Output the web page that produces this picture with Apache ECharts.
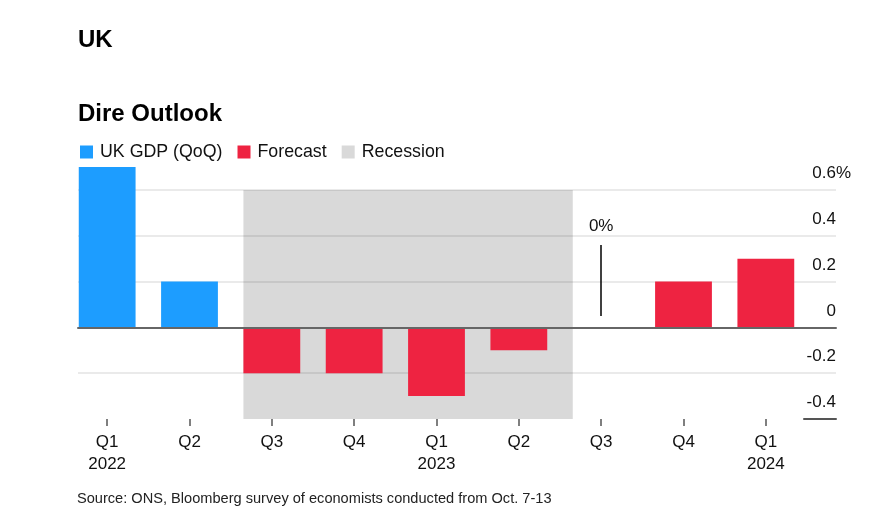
<!DOCTYPE html>
<html>
<head>
<meta charset="utf-8">
<script src="https://cdn.jsdelivr.net/npm/echarts@6/dist/echarts.min.js"></script>
<style>
html,body{margin:0;padding:0;background:#fff;}
#chart{width:872px;height:530px;}
</style>
</head>
<body>
<div id="chart"></div>
<script>
// ---- data ----
var categoryIds = ['2022Q1','2022Q2','2022Q3','2022Q4','2023Q1','2023Q2','2023Q3','2023Q4','2024Q1'];
var quarterLabels = ['Q1','Q2','Q3','Q4','Q1','Q2','Q3','Q4','Q1'];
var yearLabels = ['2022','','','','2023','','','','2024'];
var gdpActual = [0.7, 0.2, '-', '-', '-', '-', '-', '-', '-'];
var gdpForecast = ['-', '-', -0.2, -0.2, -0.3, -0.1, 0, 0.2, 0.3];
var recessionFrom = 2;   // index of 2022Q3
var recessionTo = 6;     // index of 2023Q3 (exclusive)
var annotationIndex = 6; // 2023Q3, 0%
var annotationText = '0%';
var yTicks = [-0.4, -0.2, 0, 0.2, 0.4, 0.6];
var sourceText = 'Source: ONS, Bloomberg survey of economists conducted from Oct. 7-13';

var FONT = "'Liberation Sans', Arial, Helvetica, sans-serif";
var BAR_FRAC = 0.69;
var barOffset = (1 - BAR_FRAC) / 2;
var yMin = yTicks[0], yMax = yTicks[yTicks.length - 1], yStep = 0.2;

var chart = echarts.init(document.getElementById('chart'));
chart.setOption({
  backgroundColor: '#fff',
  animation: false,
  textStyle: { fontFamily: FONT },
  title: [
    { text: 'UK', left: 78, top: 28, padding: 0,
      textStyle: { fontFamily: FONT, fontSize: 24, fontWeight: 'bold', color: '#000' } },
    { text: 'Dire Outlook', left: 78, top: 102, padding: 0,
      textStyle: { fontFamily: FONT, fontSize: 24, fontWeight: 'bold', color: '#000' } },
    { text: sourceText, left: 77, top: 491, padding: 0,
      textStyle: { fontFamily: FONT, fontSize: 14.6, fontWeight: 'normal', color: '#222' } }
  ],
  legend: {
    data: ['UK GDP (QoQ)', 'Forecast', 'Recession'],
    left: 80, top: 143, padding: 0,
    icon: 'rect', itemWidth: 13, itemHeight: 13, itemGap: 15,
    textStyle: { fontFamily: FONT, fontSize: 17.8, color: '#111', padding: [0, 0, 0, 2] }
  },
  grid: [
    { left: 78, right: 36, top: 190, bottom: 111 },   // gridlines / y labels
    { left: 66, right: 65, top: 190, bottom: 111 },   // bars
    { left: 804, right: 36, top: 190, bottom: 111 }   // short base line under labels
  ],
  xAxis: [
    { gridIndex: 0, type: 'value', min: 0, max: 1, z: 3,
      axisLine: { show: true, onZero: true, lineStyle: { color: '#666', width: 2 } },
      axisTick: { show: false }, axisLabel: { show: false }, splitLine: { show: false } },
    { gridIndex: 1, type: 'category', data: categoryIds, position: 'bottom',
      axisLine: { show: false, onZero: false },
      axisTick: { show: true, alignWithLabel: true, length: 7, lineStyle: { color: '#555', width: 1.5 } },
      axisLabel: { margin: 12, fontFamily: FONT, fontSize: 17, color: '#111', lineHeight: 22,
        interval: 0,
        formatter: function (v, i) { return quarterLabels[i] + (yearLabels[i] ? '\n' + yearLabels[i] : ''); } },
      splitLine: { show: false } },
    { gridIndex: 1, type: 'value', min: 0, max: categoryIds.length, show: false },
    { gridIndex: 2, type: 'value', min: 0, max: 1, position: 'bottom',
      axisLine: { show: true, onZero: false, lineStyle: { color: '#555', width: 2 } },
      axisTick: { show: false }, axisLabel: { show: false }, splitLine: { show: false } }
  ],
  yAxis: [
    { gridIndex: 0, type: 'value', min: yMin, max: yMax, interval: yStep, position: 'right', z: 1.5,
      axisLine: { show: false }, axisTick: { show: false },
      axisLabel: { inside: true, margin: -15, align: 'right', verticalAlign: 'bottom', padding: [0, 0, 8, 0],
        fontFamily: FONT, fontSize: 17, color: '#111',
        formatter: function (v) {
          var r = Math.round(v * 10) / 10;
          var s = r === 0 ? '0' : r.toFixed(1);
          return s + (Math.abs(r - yMax) < 1e-9 ? '{p|%}' : '{h|%}');
        },
        rich: {
          p: { fontFamily: FONT, fontSize: 17, color: '#111' },
          h: { fontFamily: FONT, fontSize: 17, color: 'rgba(0,0,0,0)' }
        } },
      splitLine: { show: true, showMinLine: false, lineStyle: { color: 'rgba(0,0,0,0.11)', width: 1.5 } } },
    { gridIndex: 1, type: 'value', min: yMin, max: yMax, show: false },
    { gridIndex: 2, type: 'value', min: yMin, max: yMax, show: false }
  ],
  series: [
    { name: 'Recession', type: 'line', xAxisIndex: 2, yAxisIndex: 1, data: [], z: 0,
      color: '#d9d9d9', itemStyle: { color: '#d9d9d9' }, lineStyle: { color: '#d9d9d9' },
      markArea: { silent: true, z: 1, itemStyle: { color: '#d9d9d9' },
        data: [[{ xAxis: recessionFrom + barOffset, yAxis: yMax }, { xAxis: recessionTo + barOffset, yAxis: yMin }]] } },
    { name: 'UK GDP (QoQ)', type: 'bar', xAxisIndex: 1, yAxisIndex: 1, data: gdpActual, z: 2,
      barWidth: (BAR_FRAC * 100) + '%', barGap: '-100%', clip: false,
      itemStyle: { color: '#1d9dff' } },
    { name: 'Forecast', type: 'bar', xAxisIndex: 1, yAxisIndex: 1, data: gdpForecast, z: 2,
      barWidth: (BAR_FRAC * 100) + '%', barGap: '-100%', clip: false,
      itemStyle: { color: '#ee2341' },
      markLine: { silent: true, symbol: 'none',
        lineStyle: { color: '#000', width: 1.5, type: 'solid' },
        label: { show: true, position: 'end', distance: 10, formatter: annotationText,
          fontFamily: FONT, fontSize: 17, color: '#111' },
        data: [[{ coord: [annotationIndex, 0.05] }, { coord: [annotationIndex, 0.36] }]] } }
  ]
});
</script>
</body>
</html>
